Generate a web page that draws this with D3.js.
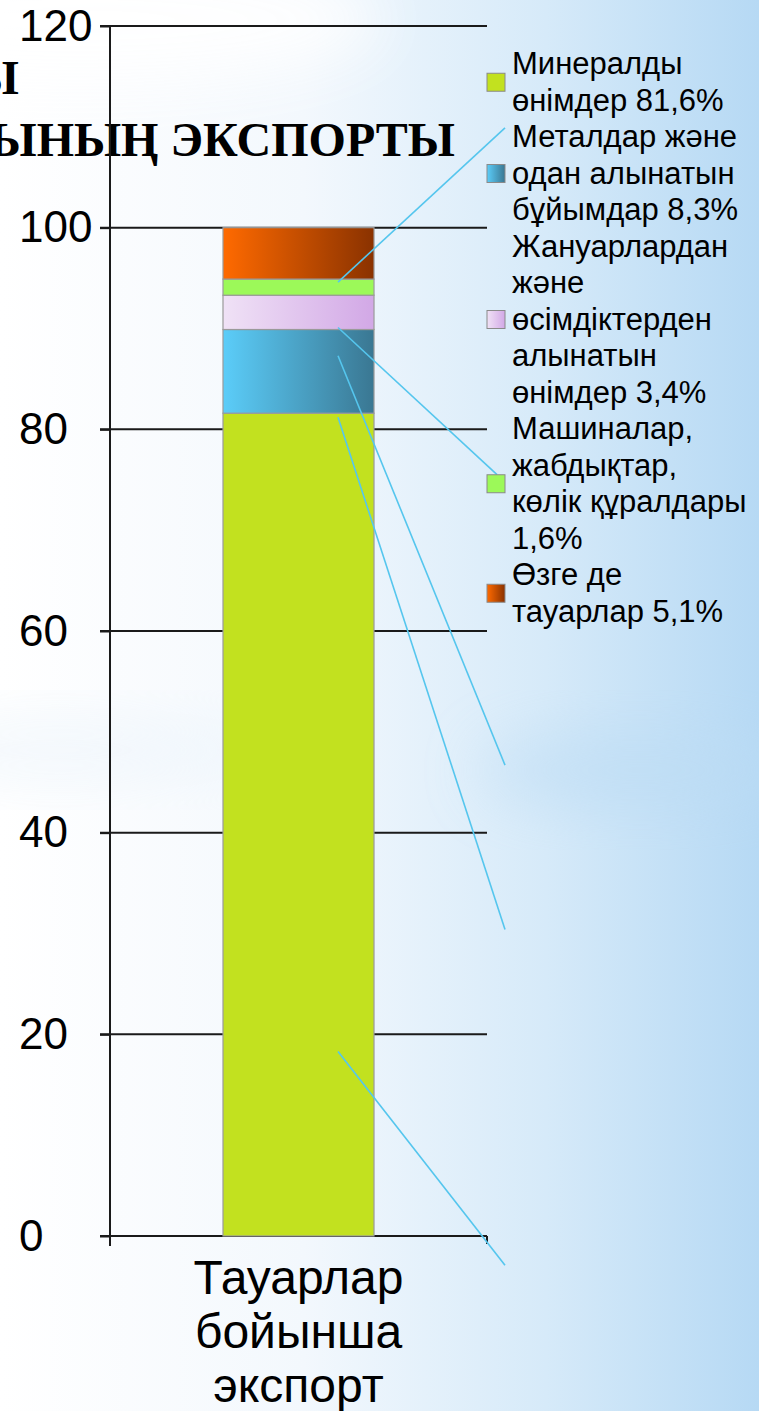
<!DOCTYPE html>
<html>
<head>
<meta charset="utf-8">
<script src="https://cdn.jsdelivr.net/npm/d3@7"></script>
<style>
  html, body { margin: 0; padding: 0; background: #fff; }
  svg { display: block; }
</style>
</head>
<body>
<svg id="chart" width="759" height="1411"></svg>
<script>
// Деректер
const categories = ['Тауарлар бойынша экспорт'];
const categoryLines = ['Тауарлар', 'бойынша', 'экспорт'];
const seriesKeys = ['mineral', 'metal', 'plant', 'machine', 'other'];
const seriesValues = [81.6, 8.3, 3.4, 1.6, 5.1];
const legendLabels = [
    ['Минералды', 'өнімдер 81,6%'],
    ['Металдар және', 'одан алынатын', 'бұйымдар 8,3%'],
    ['Жануарлардан', 'және', 'өсімдіктерден', 'алынатын', 'өнімдер 3,4%'],
    ['Машиналар,', 'жабдықтар,', 'көлік құралдары', '1,6%'],
    ['Өзге де', 'тауарлар 5,1%']
];
const yTicks = [0, 20, 40, 60, 80, 100, 120];
// Сызықтардың басы мен соңы (мән бойынша)
const leaderFrom = [94.6, 90.1, 87.3, 81.2, 18.3];
const leaderTo = [109.9, 75.5, 46.7, 30.4, -2.9];

// Түстер: [сол жақ, оң жақ]
const colors = {
    mineral: ['#c2e11f', '#c2e11f'],
    metal: ['#5bcdf9', '#3a7792'],
    plant: ['#f0e2f6', '#d2a8e6'],
    machine: ['#9cf959', '#9cf959'],
    other: ['#ff6a00', '#8a3200']
};

const svg = d3.select('#chart');
const defs = svg.append('defs');

// Фон
const bg = defs.append('linearGradient').attr('id', 'bg')
    .attr('x1', 0).attr('y1', 0).attr('x2', 1).attr('y2', 0);
bg.append('stop').attr('offset', 0).attr('stop-color', '#ffffff');
bg.append('stop').attr('offset', 0.4).attr('stop-color', '#f3f8fd');
bg.append('stop').attr('offset', 0.72).attr('stop-color', '#d6eaf9');
bg.append('stop').attr('offset', 1).attr('stop-color', '#b6d9f4');

defs.append('filter').attr('id', 'blur')
    .attr('x', '-50%').attr('y', '-50%').attr('width', '200%').attr('height', '200%')
    .append('feGaussianBlur').attr('stdDeviation', 30);

svg.append('rect').attr('width', 759).attr('height', 1411).attr('fill', 'url(#bg)');
svg.append('ellipse').attr('cx', 60).attr('cy', 750).attr('rx', 220).attr('ry', 30)
    .attr('fill', '#e6f1fa').attr('opacity', 0.5).attr('filter', 'url(#blur)');
svg.append('ellipse').attr('cx', 640).attr('cy', 770).attr('rx', 160).attr('ry', 40)
    .attr('fill', '#bcdcf4').attr('opacity', 0.6).attr('filter', 'url(#blur)');
svg.append('ellipse').attr('cx', 80).attr('cy', 20).attr('rx', 300).attr('ry', 60)
    .attr('fill', '#ffffff').attr('opacity', 0.9).attr('filter', 'url(#blur)');

// Тақырып (кесілген)
const title = svg.append('g')
    .attr('font-family', '"Liberation Serif", "DejaVu Serif", serif')
    .attr('font-weight', 'bold')
    .attr('font-size', 48)
    .attr('fill', '#000')
    .attr('text-anchor', 'end');
title.append('text').attr('x', 19).attr('y', 94).text('Ы');
title.append('text').attr('x', 455).attr('y', 156).text('ЫНЫҢ ЭКСПОРТЫ');

// Градиенттер
seriesKeys.forEach(function (k) {
    const g = defs.append('linearGradient').attr('id', 'g-' + k)
        .attr('x1', 0).attr('y1', 0).attr('x2', 1).attr('y2', 0);
    g.append('stop').attr('offset', 0).attr('stop-color', colors[k][0]);
    g.append('stop').attr('offset', 1).attr('stop-color', colors[k][1]);
});

const left = 110, right = 487;
const y = d3.scaleLinear().domain([0, 120]).range([1236, 26]);
const x = d3.scaleBand().domain(categories).range([left, right]).padding(0.428);

// Тор сызықтары
svg.append('g').selectAll('line')
    .data(yTicks)
    .enter().append('line')
    .attr('x1', left - 10).attr('x2', right)
    .attr('y1', d => y(d)).attr('y2', d => y(d))
    .attr('stroke', '#1a1a1a').attr('stroke-width', 2);

// Y осі (белгілер сол жаққа тураланған)
const yAxis = svg.append('g')
    .attr('transform', 'translate(' + left + ',0)')
    .call(d3.axisLeft(y).tickValues(yTicks).tickSize(10).tickFormat(d3.format('d')));
yAxis.select('.domain').remove();
yAxis.selectAll('.tick line').attr('stroke', '#1a1a1a').attr('stroke-width', 2);
yAxis.selectAll('.tick text')
    .attr('x', 19 - left)
    .attr('text-anchor', 'start')
    .attr('font-family', '"Liberation Sans", Arial, sans-serif')
    .attr('font-size', 44)
    .attr('fill', '#000');
svg.append('line')
    .attr('x1', left).attr('x2', left)
    .attr('y1', y(120)).attr('y2', y(0) + 10)
    .attr('stroke', '#1a1a1a').attr('stroke-width', 2);
svg.append('line')
    .attr('x1', right).attr('x2', right)
    .attr('y1', y(0)).attr('y2', y(0) + 8)
    .attr('stroke', '#1a1a1a').attr('stroke-width', 2);

// Бағандар
const row = { cat: categories[0] };
seriesKeys.forEach(function (k, i) { row[k] = seriesValues[i]; });
const stacked = d3.stack().keys(seriesKeys)([row]);

svg.append('g').selectAll('rect')
    .data(stacked)
    .enter().append('rect')
    .attr('x', d => x(d[0].data.cat))
    .attr('width', x.bandwidth())
    .attr('y', d => y(d[0][1]))
    .attr('height', d => y(d[0][0]) - y(d[0][1]))
    .attr('fill', d => 'url(#g-' + d.key + ')')
    .attr('stroke', '#9a9a9a')
    .attr('stroke-width', 1.2);

// Санат белгісі
svg.append('g').selectAll('text')
    .data(categoryLines)
    .enter().append('text')
    .attr('x', x(categories[0]) + x.bandwidth() / 2)
    .attr('y', (d, i) => 1294 + i * 54)
    .attr('text-anchor', 'middle')
    .attr('font-family', '"Liberation Sans", Arial, sans-serif')
    .attr('font-size', 48)
    .attr('fill', '#000')
    .text(d => d);

// Көрсеткіш сызықтар
const leaderX0 = 338;
const leaderX1 = [505, 497, 505, 505, 505];
svg.append('g').selectAll('line')
    .data(leaderFrom)
    .enter().append('line')
    .attr('x1', leaderX0)
    .attr('y1', d => y(d))
    .attr('x2', (d, i) => leaderX1[i])
    .attr('y2', (d, i) => y(leaderTo[i]))
    .attr('stroke', '#55c6ee')
    .attr('stroke-width', 1.6);

// Шартты белгілер
const lineH = 36.5, firstBase = 74;
let lineIdx = 0;
const legend = svg.append('g')
    .attr('font-family', '"Liberation Sans", Arial, sans-serif')
    .attr('font-size', 31)
    .attr('fill', '#000');
legendLabels.forEach(function (lines, i) {
    const start = lineIdx;
    lines.forEach(function (t) {
        legend.append('text')
            .attr('x', 512)
            .attr('y', firstBase + lineIdx * lineH)
            .text(t);
        lineIdx++;
    });
    const mid = firstBase + (start + (lines.length - 1) / 2) * lineH - 10;
    legend.append('rect')
        .attr('x', 487).attr('y', mid - 9)
        .attr('width', 18).attr('height', 18)
        .attr('fill', 'url(#g-' + seriesKeys[i] + ')')
        .attr('stroke', '#8a8a8a').attr('stroke-width', 1);
});
</script>
</body>
</html>
